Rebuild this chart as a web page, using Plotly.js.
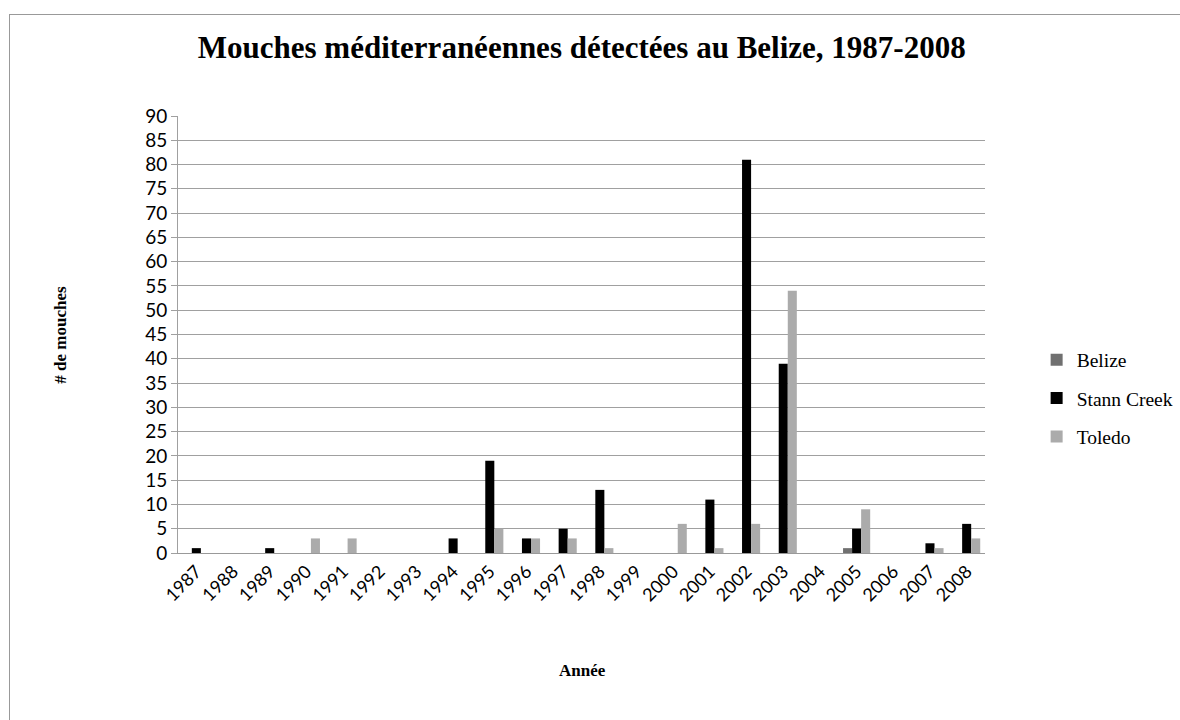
<!DOCTYPE html>
<html>
<head>
<meta charset="utf-8">
<script src="https://cdn.plot.ly/plotly-3.0.1.min.js"></script>
<style>
html,body{margin:0;padding:0;background:#fff;}
#wrap{position:relative;width:1180px;height:720px;overflow:hidden;}
#chart{position:absolute;left:0;top:0;width:1180px;height:720px;}
#frame{position:absolute;left:9px;top:14px;width:1200px;height:720px;border-left:1px solid #999;border-top:1px solid #999;pointer-events:none;}
</style>
</head>
<body>
<div id="wrap"><div id="chart"></div><div id="frame"></div></div>
<script>
const years = ["1987","1988","1989","1990","1991","1992","1993","1994","1995","1996","1997","1998","1999","2000","2001","2002","2003","2004","2005","2006","2007","2008"];
const belize     = [0,0,0,0,0,0,0,0,0,0,0,0,0,0,0,0,0,0,1,0,0,0];
const stannCreek = [1,0,1,0,0,0,0,3,19,3,5,13,0,0,11,81,39,0,5,0,2,6];
const toledo     = [0,0,0,3,3,0,0,0,5,3,3,1,0,6,1,6,54,0,9,0,1,3];
const yTicks = [0,5,10,15,20,25,30,35,40,45,50,55,60,65,70,75,80,85,90];

const serif = "Liberation Serif, Times New Roman, serif";
const sans = "Lato, Liberation Sans, sans-serif";

const traces = [
  {type:"bar", name:"Belize", legendgroup:"a", x:years, y:belize, marker:{color:"#707070", line:{width:0}}},
  {type:"bar", name:"Stann Creek", legendgroup:"b", x:years, y:stannCreek, marker:{color:"#000000", line:{width:0}}},
  {type:"bar", name:"Toledo", legendgroup:"c", x:years, y:toledo, marker:{color:"#ababab", line:{width:0}}}
];

const layout = {
  width:1180, height:720,
  paper_bgcolor:"#fff", plot_bgcolor:"#fff",
  margin:{l:178, r:195, t:116, b:167},
  barmode:"group", bargap:0.26, bargroupgap:0,
  title:{text:"<b>Mouches méditerranéennes détectées au Belize, 1987-2008</b>", font:{family:serif, size:31, color:"#000"}, x:0.493, xanchor:"center", y:0.935, yanchor:"middle"},
  xaxis:{type:"category", tickangle:-45, tickfont:{family:sans, size:18, color:"#000"},
    showgrid:false, showline:true, linecolor:"#999", ticks:"", zeroline:false},
  yaxis:{range:[0,90], tickvals:yTicks, ticktext:yTicks.map(String), tickfont:{family:sans, size:19, color:"#000"},
    showgrid:true, gridcolor:"#a0a0a0", gridwidth:1, showline:true, linecolor:"#a0a0a0",
    ticks:"outside", ticklen:6, tickcolor:"#a0a0a0", zeroline:true, zerolinecolor:"#999", fixedrange:true},
  legend:{xref:"container", yref:"container", x:0.8785, xanchor:"left", y:0.527, yanchor:"top", font:{family:serif, size:19.5, color:"#000"}, traceorder:"grouped", tracegroupgap:10, itemsizing:"constant", itemwidth:30, bgcolor:"rgba(0,0,0,0)"},
  annotations:[
    {text:"<b>Année</b>", xref:"paper", yref:"paper", x:0.501, y:-0.27, xanchor:"center", yanchor:"middle", showarrow:false, font:{family:serif, size:17, color:"#000"}},
    {text:"<b># de mouches</b>", xref:"paper", yref:"paper", x:-0.146, y:0.5, xanchor:"center", yanchor:"middle", textangle:-90, showarrow:false, font:{family:serif, size:17, color:"#000"}}
  ],
  showlegend:true
};

Plotly.newPlot("chart", traces, layout, {displayModeBar:false, staticPlot:true});
</script>
</body>
</html>
